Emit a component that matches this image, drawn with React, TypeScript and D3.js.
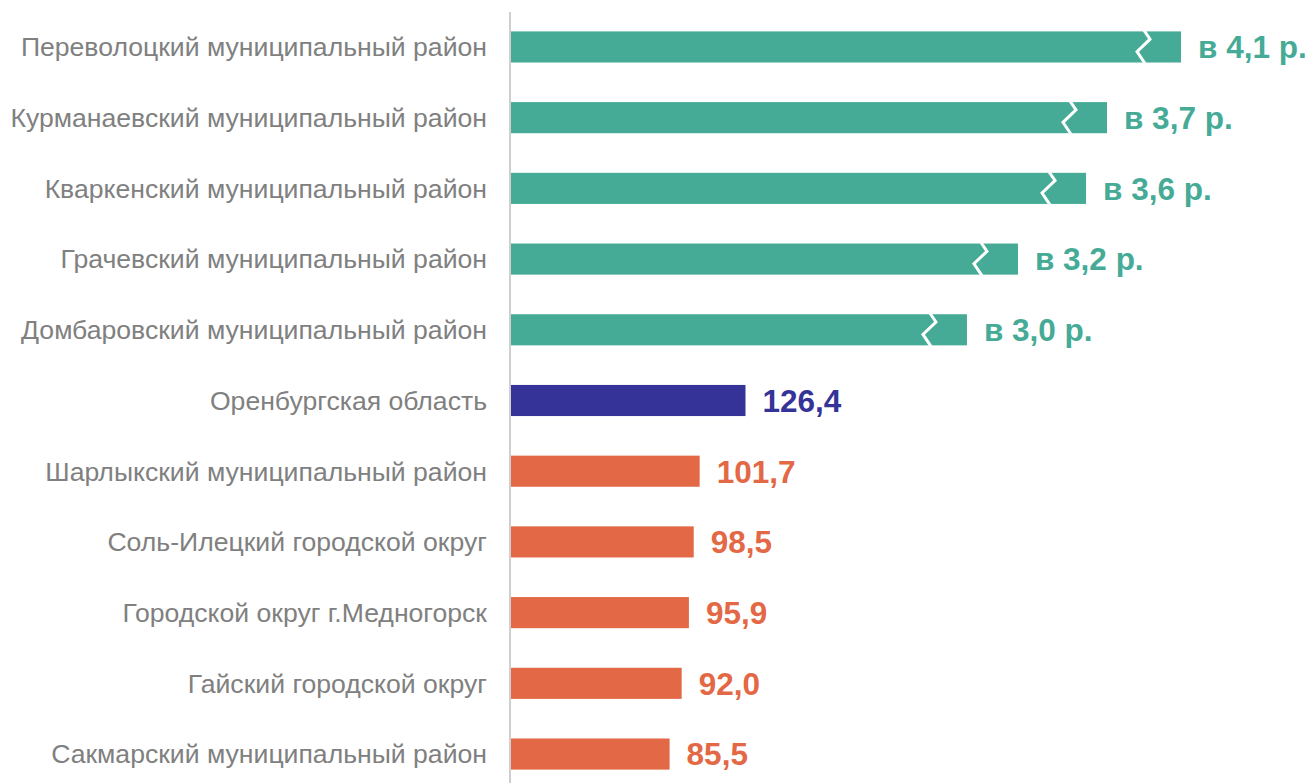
import React from "react";
import * as d3 from "d3";

const categories = [
  "Переволоцкий муниципальный район",
  "Курманаевский муниципальный район",
  "Кваркенский муниципальный район",
  "Грачевский муниципальный район",
  "Домбаровский муниципальный район",
  "Оренбургская область",
  "Шарлыкский муниципальный район",
  "Соль-Илецкий городской округ",
  "Городской округ г.Медногорск",
  "Гайский городской округ",
  "Сакмарский муниципальный район",
];
// plotted (displayed, truncated for broken bars) values
const plotted = [361.2, 321.3, 310.0, 273.3, 245.8, 126.4, 101.7, 98.5, 95.9, 92.0, 85.5];
const valueLabels = ["в 4,1 р.", "в 3,7 р.", "в 3,6 р.", "в 3,2 р.", "в 3,0 р.", "126,4", "101,7", "98,5", "95,9", "92,0", "85,5"];
const groups = ["up", "up", "up", "up", "up", "region", "down", "down", "down", "down", "down"];
const broken = [true, true, true, true, true, false, false, false, false, false, false];

const colors: Record<string, string> = { up: "#46AB96", region: "#353397", down: "#E36845" };

export default function App() {
  const W = 1309, H = 783;
  const x0 = 511;
  const x = d3.scaleLinear().domain([0, 400]).range([x0, x0 + 742]);
  const y = d3.scaleBand<string>().domain(categories).range([11.6, 789.4]).paddingInner(0.56).paddingOuter(0.28);
  const bh = y.bandwidth();
  return (
    <svg width={W} height={H} style={{ position: "absolute", left: 0, top: 0, background: "#fff" }}
      fontFamily="'Liberation Sans', Arial, sans-serif">
      {categories.map((c, i) => {
        const yy = y(c)!;
        const xe = x(plotted[i]);
        const col = colors[groups[i]];
        const cy = yy + bh / 2;
        let brk = null;
        if (broken[i]) {
          const bx = xe - 38;
          const pts: [number, number][] = [
            [bx + 1, yy - 1],
            [bx + 7, yy + bh * 0.25],
            [bx - 6, yy + bh * 0.65],
            [bx + 2, yy + bh + 1],
          ];
          brk = <path d={d3.line()(pts)!} fill="none" stroke="#fff" strokeWidth={3} strokeLinejoin="miter" />;
        }
        return (
          <g key={c}>
            <rect x={x0} y={yy} width={xe - x0} height={bh} fill={col} />
            {brk}
            <text x={487} y={cy} dy="0.35em" textAnchor="end" fontSize={26.6} fill="#808080">{c}</text>
            <text x={xe + 17} y={cy} dy="0.36em" fontSize={31.5} fontWeight="bold" fill={col}>{valueLabels[i]}</text>
          </g>
        );
      })}
      <line x1={510} x2={510} y1={12} y2={783} stroke="#bfbfbf" strokeWidth={1.5} />
    </svg>
  );
}
